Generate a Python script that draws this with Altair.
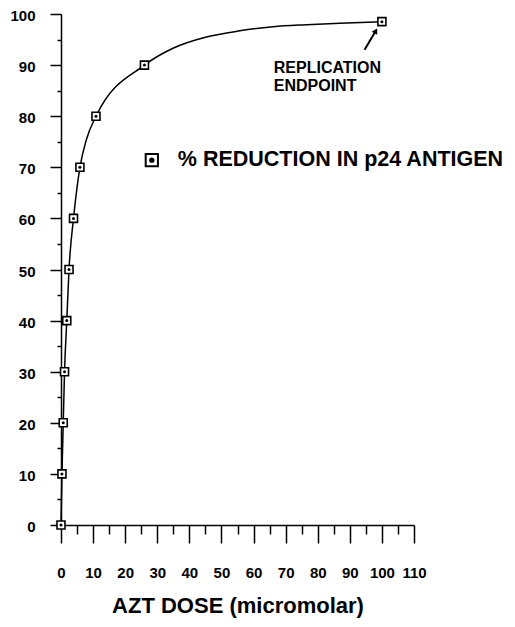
import altair as alt
import pandas as pd

# measured data points (AZT dose in micromolar, % reduction in p24 antigen)
dose = [0, 0.3, 0.7, 1.1, 1.8, 2.5, 3.9, 5.9, 10.9, 26, 100]
reduction = [0, 10, 20, 30, 40, 50, 60, 70, 80, 90, 98.5]

# fitted curve
curve_x = [0, 0.3, 0.7, 1.1, 1.8, 2.5, 3.9, 5.9, 7.9, 10.9, 26, 34.9, 45.3, 55.7, 66.1, 76.5, 86.9, 100]
curve_y = [0, 10, 20, 30, 40, 50, 60, 70, 75.4, 80, 90, 93.3, 95.5, 96.7, 97.5, 97.9, 98.2, 98.5]

x_major = list(range(0, 111, 10))
x_minor = list(range(5, 110, 10))
y_major = list(range(0, 101, 10))
y_minor = list(range(5, 100, 10))

legend_label = ["% REDUCTION IN p24 ANTIGEN"]
note_lines = ["REPLICATION", "ENDPOINT"]

FONT = "Liberation Sans"

pts = pd.DataFrame({"x": dose, "y": reduction})
crv = pd.DataFrame({"x": curve_x, "y": curve_y})

xs = alt.Scale(domain=[0, 110], nice=False, zero=False)
ys = alt.Scale(domain=[0, 100], nice=False, zero=False)

major_x_axis = alt.Axis(values=x_major, orient="bottom", tickSize=18, tickWidth=1.5,
                        domainWidth=1.5, domainColor="black", tickColor="black",
                        labelFont=FONT, labelFontWeight="bold", labelFontSize=15,
                        labelColor="black", labelPadding=22, labelFlush=False,
                        title="AZT DOSE (micromolar)", titleFont=FONT, titleFontWeight="bold",
                        titleFontSize=22, titleColor="black", titlePadding=15, grid=False)
major_y_axis = alt.Axis(values=y_major, orient="left", tickSize=11, tickWidth=1.5,
                        domainWidth=1.5, domainColor="black", tickColor="black",
                        labelFont=FONT, labelFontWeight="bold", labelFontSize=15,
                        labelColor="black", labelPadding=15, labelFlush=False, labelOffset=1.5,
                        title=None, grid=False)
minor_x_axis = alt.Axis(values=x_minor, orient="bottom", tickSize=9, tickWidth=1.5,
                        tickColor="black", domain=False, labels=False, title=None, grid=False)
minor_y_axis = alt.Axis(values=y_minor, orient="left", tickSize=4, tickWidth=1.5,
                        tickColor="black", domain=False, labels=False, title=None, grid=False)

line = alt.Chart(crv).mark_line(color="black", strokeWidth=1.5, interpolate="monotone").encode(
    x=alt.X("x:Q", scale=xs, axis=major_x_axis),
    y=alt.Y("y:Q", scale=ys, axis=major_y_axis),
)

squares = alt.Chart(pts).mark_point(shape="square", size=64, filled=True, fill="white",
                                    stroke="black", strokeWidth=1.6, opacity=1).encode(
    x=alt.X("x:Q", scale=xs, axis=minor_x_axis),
    y=alt.Y("y:Q", scale=ys, axis=minor_y_axis),
)

dots = alt.Chart(pts).mark_point(shape="circle", size=9, filled=True, color="black", opacity=1).encode(
    x=alt.X("x:Q", scale=xs, axis=None),
    y=alt.Y("y:Q", scale=ys, axis=None),
)

leg_df = pd.DataFrame({"x": [28.3], "y": [71.4], "tx": [36.4], "label": legend_label})
leg_sq = alt.Chart(leg_df).mark_point(shape="square", size=150, filled=True, fill="white",
                                      stroke="black", strokeWidth=2, opacity=1).encode(
    x=alt.X("x:Q", scale=xs, axis=None), y=alt.Y("y:Q", scale=ys, axis=None))
leg_dot = alt.Chart(leg_df).mark_point(shape="circle", size=28, filled=True, color="black", opacity=1).encode(
    x=alt.X("x:Q", scale=xs, axis=None), y=alt.Y("y:Q", scale=ys, axis=None))
leg_txt = alt.Chart(leg_df).mark_text(align="left", baseline="middle", font=FONT, fontWeight="bold",
                                      fontSize=21.5, color="black").encode(
    x=alt.X("tx:Q", scale=xs, axis=None), y=alt.Y("y:Q", scale=ys, axis=None), text="label:N")

note_df = pd.DataFrame({"x": [66.3, 66.3], "y": [89.5, 86.0], "t": note_lines})
note = alt.Chart(note_df).mark_text(align="left", baseline="middle", font=FONT, fontWeight="bold",
                                    fontSize=16, color="black").encode(
    x=alt.X("x:Q", scale=xs, axis=None), y=alt.Y("y:Q", scale=ys, axis=None), text="t:N")

arrow_df = pd.DataFrame({"x": [94.6], "y": [93.0], "x2": [98.1], "y2": [96.7]})
arrow_shaft = alt.Chart(arrow_df).mark_rule(color="black", strokeWidth=2).encode(
    x=alt.X("x:Q", scale=xs, axis=None), y=alt.Y("y:Q", scale=ys, axis=None), x2="x2:Q", y2="y2:Q")
arrow_head = alt.Chart(arrow_df).mark_point(shape="triangle-up", angle=30, size=40, filled=True,
                                            color="black", opacity=1).encode(
    x=alt.X("x2:Q", scale=xs, axis=None), y=alt.Y("y2:Q", scale=ys, axis=None))

chart = alt.layer(line, squares, dots, leg_sq, leg_dot, leg_txt, note, arrow_shaft, arrow_head).resolve_axis(
    x="independent", y="independent"
).properties(
    width=353, height=511,
    autosize=alt.AutoSizeParams(type="none"),
    padding={"left": 53, "top": 6, "right": 93, "bottom": 94},
    background="white",
).configure_view(stroke=None)

chart.save("out.html", embed_options={"renderer": "svg", "actions": False})
